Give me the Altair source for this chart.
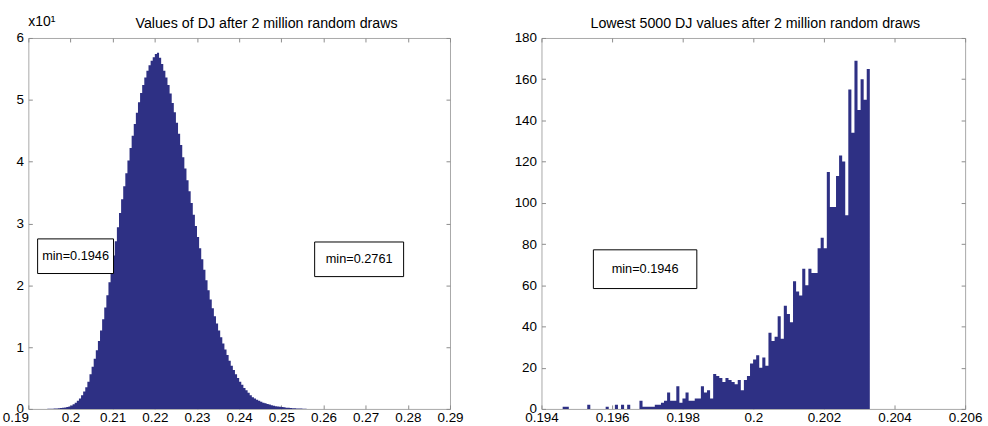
import altair as alt
import pandas as pd

NAVY = "#2E3084"
FRAME = "#A8A8A8"
TICK = "#8C8C8C"
FONT = "Liberation Sans"

left_title = "Values of DJ after 2 million random draws"
right_title = "Lowest 5000 DJ values after 2 million random draws"
left_scale_note = "x10\u00b9"

# ---- left histogram (heights in units of x10^1) ----
left_bin_start = 0.1945
left_bin_width = 0.0005
left_heights = [
    0.003, 0.002, 0.004, 0.006, 0.008, 0.011, 0.014, 0.018, 0.024, 0.031,
    0.040, 0.055, 0.075, 0.10, 0.13, 0.17, 0.22, 0.28, 0.35, 0.44,
    0.56, 0.68, 0.81, 0.95, 1.10, 1.27, 1.45, 1.64, 1.84, 2.05,
    2.26, 2.48, 2.71, 2.94, 3.17, 3.39, 3.60, 3.81, 4.02, 4.22,
    4.42, 4.61, 4.79, 4.96, 5.11, 5.24, 5.36, 5.47, 5.56, 5.63,
    5.69, 5.74, 5.76, 5.68, 5.58, 5.47, 5.36, 5.24, 5.10, 4.95,
    4.80, 4.63, 4.45, 4.27, 4.07, 3.89, 3.70, 3.52, 3.33, 3.14,
    2.96, 2.78, 2.60, 2.42, 2.25, 2.08, 1.92, 1.77, 1.63, 1.50,
    1.38, 1.27, 1.16, 1.06, 0.96, 0.87, 0.78, 0.70, 0.63, 0.56,
    0.50, 0.44, 0.39, 0.34, 0.30, 0.26, 0.22, 0.19, 0.17, 0.15,
    0.13, 0.115, 0.10, 0.09, 0.08, 0.07, 0.06, 0.05, 0.045, 0.04,
    0.035, 0.03, 0.025, 0.02, 0.017, 0.014, 0.012, 0.010, 0.008, 0.006,
    0.005, 0.004, 0.003,
]

# ---- right histogram (counts, 100 bins) ----
right_bin_start = 0.1946
right_bin_width = 0.000087
right_counts = [
    1, 1, 0, 0, 0, 0, 0, 0, 2, 0,
    0, 0, 0, 0, 1, 0, 0, 2, 0, 2,
    0, 2, 0, 0, 0, 4, 1, 1, 1, 1,
    2, 2, 3, 4, 8, 4, 4, 11, 3, 5,
    8, 4, 4, 5, 5, 11, 8, 9, 5, 17,
    16, 15, 13, 15, 14, 13, 12, 14, 9, 14,
    16, 22, 24, 26, 20, 25, 21, 37, 33, 35,
    45, 34, 50, 46, 42, 62, 57, 55, 68, 60,
    68, 66, 66, 78, 83, 78, 115, 98, 98, 113,
    123, 120, 94, 155, 134, 169, 145, 160, 150, 165,
]

left_x_ticks = [0.19, 0.20, 0.21, 0.22, 0.23, 0.24, 0.25, 0.26, 0.27, 0.28, 0.29]
left_y_ticks = [0, 1, 2, 3, 4, 5, 6]
right_x_ticks = [0.194, 0.196, 0.198, 0.200, 0.202, 0.204, 0.206]
right_y_ticks = [0, 20, 40, 60, 80, 100, 120, 140, 160, 180]

left_note_labels = ["min=0.1946", "min=0.2761"]
left_note_x0 = [0.1922, 0.2579]
left_note_x1 = [0.2102, 0.2790]
left_note_y0 = [2.19, 2.14]
left_note_y1 = [2.75, 2.70]

right_note_labels = ["min=0.1946"]
right_note_x0 = [0.19547]
right_note_x1 = [0.19840]
right_note_y0 = [58.4]
right_note_y1 = [77.2]


def steps(start, width, heights):
    # histogram outline: each bin start with its height, closed at the last edge
    xs = [start + i * width for i in range(len(heights))] + [start + len(heights) * width]
    return pd.DataFrame({"x": xs, "h": list(heights) + [0]})


def notes(labels, x0, x1, y0, y1):
    return pd.DataFrame({"label": labels, "x0": x0, "x1": x1, "y0": y0, "y1": y1})


def panel(df, nd, xdom, ydom, xt, yt, xfmt, title, dx, w, h, corner_text=None,
          first_label_right=None):
    xs = alt.Scale(domain=xdom, nice=False, zero=False)
    ys = alt.Scale(domain=ydom, nice=False)
    common = dict(grid=False, domain=False, tickSize=4, offset=-4, tickColor=TICK,
                  tickWidth=1, labelFont=FONT, labelFontSize=13.5, labelColor="black",
                  labelOverlap=False, title=None)
    xb_kw = dict(values=xt, format=xfmt, orient="bottom", labelPadding=2, labelFlush=False)
    if first_label_right is not None:
        xb_kw["labelAlign"] = alt.condition(f"datum.value <= {first_label_right}",
                                            alt.value("right"), alt.value("center"))
    xb = alt.Axis(**xb_kw, **common)
    yl = alt.Axis(values=yt, format="d", orient="left", labelPadding=5, **common)
    xt_top = alt.Axis(values=xt, orient="top", labels=False, **common)
    yt_right = alt.Axis(values=yt, orient="right", labels=False, **common)

    hist = alt.Chart(df).mark_area(color=NAVY, interpolate="step-after", opacity=1).encode(
        x=alt.X("x:Q", scale=xs, axis=xb),
        y=alt.Y("h:Q", scale=ys, axis=yl),
    )
    frame = alt.Chart(df).mark_area(opacity=0, interpolate="step-after").encode(
        x=alt.X("x:Q", scale=xs, axis=xt_top),
        y=alt.Y("h:Q", scale=ys, axis=yt_right),
    )
    box = alt.Chart(nd).mark_rect(fill="white", stroke="black", strokeWidth=1).encode(
        x=alt.X("x0:Q", scale=xs, axis=None), x2="x1:Q",
        y=alt.Y("y0:Q", scale=ys, axis=None), y2="y1:Q",
    )
    txt = alt.Chart(nd).transform_calculate(
        xm="(datum.x0 + datum.x1) / 2", ym="(datum.y0 + datum.y1) / 2"
    ).mark_text(font=FONT, fontSize=12.8, color="black", align="center", baseline="middle").encode(
        x=alt.X("xm:Q", scale=xs, axis=None),
        y=alt.Y("ym:Q", scale=ys, axis=None),
        text="label:N",
    )
    head = alt.Chart(pd.DataFrame({"t": [title]})).mark_text(
        font=FONT, fontSize=14.3, color="black", align="center", baseline="alphabetic"
    ).encode(x=alt.value(w / 2 + dx), y=alt.value(-10), text="t:N")
    layers = [hist, frame, box, txt, head]
    if corner_text:
        corner = alt.Chart(pd.DataFrame({"t": [corner_text]})).mark_text(
            font=FONT, fontSize=14, color="black", align="left", baseline="alphabetic"
        ).encode(x=alt.value(0), y=alt.value(-12), text="t:N")
        layers.append(corner)
    return alt.layer(*layers).resolve_axis(x="independent", y="independent").properties(
        width=w, height=h,
    )


left = panel(steps(left_bin_start, left_bin_width, left_heights),
             notes(left_note_labels, left_note_x0, left_note_x1, left_note_y0, left_note_y1),
             [0.19, 0.29], [0, 6], left_x_ticks, left_y_ticks, ".2~f", left_title, 27.5,
             424, 373, corner_text=left_scale_note, first_label_right=0.19)
right = panel(steps(right_bin_start, right_bin_width, right_counts),
              notes(right_note_labels, right_note_x0, right_note_x1, right_note_y0, right_note_y1),
              [0.194, 0.206], [0, 180], right_x_ticks, right_y_ticks, ".3~f", right_title, 2,
              426, 373)

chart = alt.hconcat(left, right, spacing=92, bounds="flush").configure_view(
    stroke=FRAME, strokeWidth=1
).properties(padding={"left": 1.5, "top": 13, "right": 5, "bottom": 0})

chart.save("out.html", embed_options={"renderer": "svg", "actions": False})
